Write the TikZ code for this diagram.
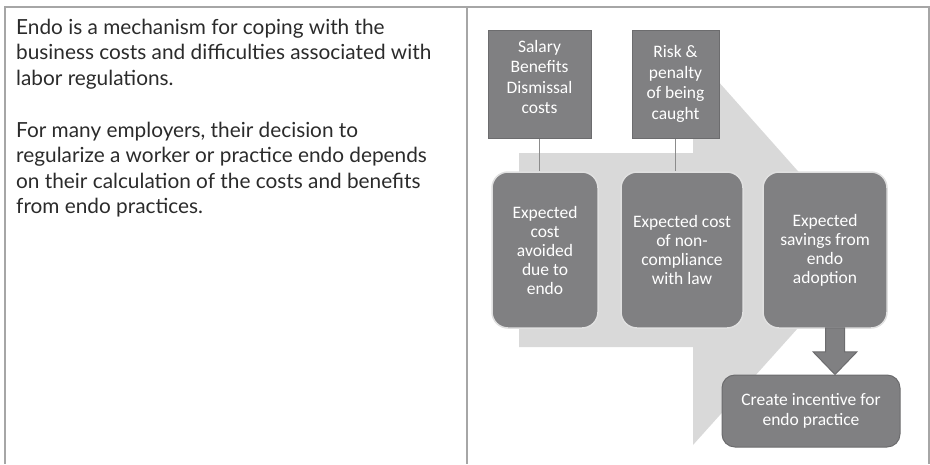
\documentclass[tikz,border=0pt]{standalone}
\usepackage{fontspec}
\setmainfont{Lato}
\newfontfamily\boxfont{Carlito}
\usetikzlibrary{calc}
\definecolor{framegray}{HTML}{A6A6A6}
\definecolor{boxgray}{HTML}{808082}
\definecolor{edgegray}{HTML}{6C6C6E}
\definecolor{chevgray}{HTML}{D9D9D9}
\definecolor{linkgray}{HTML}{8C8C8C}
\definecolor{inkgray}{HTML}{2B2B2B}
\begin{document}
\begin{tikzpicture}[x=1pt,y=-1pt,
    frame/.style={draw=framegray,line width=1.5pt},
    bodytext/.style={inner sep=0pt,align=left,text=inkgray,font=\fontsize{20.8}{25.5}\selectfont},
    boxtxt/.style={inner sep=0pt,align=center,text=white,font=\boxfont\fontsize{17.5}{20.5}\selectfont},
    topbox/.style={draw=edgegray,fill=boxgray,line width=1pt,inner sep=0pt,minimum height=108pt,boxtxt},
    midbox/.style={draw=white!88!black,fill=boxgray,line width=1.5pt,rounded corners=16pt,inner sep=0pt,minimum height=156pt,boxtxt,font=\boxfont\fontsize{17.5}{19}\selectfont},
    endbox/.style={draw=edgegray,fill=boxgray,line width=1pt,rounded corners=13pt,inner sep=0pt,minimum width=178pt,minimum height=72pt,boxtxt,font=\boxfont\fontsize{17.5}{20}\selectfont},
    link/.style={draw=linkgray,line width=1.3pt}]
  \useasboundingbox (0,0) rectangle (930,464);
  \draw[frame] (5,464) -- (5,7) -- (929,7) -- (929,464);
  \draw[frame] (467,7) -- (467,464);
  \node[bodytext,anchor=north west] (intro) at (16,18.8) {Endo is a mechanism for coping with the\\business costs and difficulties associated with\\labor regulations.};
  \node[bodytext,anchor=north west] (decide) at (16,121.8) {For many employers, their decision to\\regularize a worker or practice endo depends\\on their calculation of the costs and benefits\\from endo practices.};
  \fill[chevgray] (519,153) -- (693,153) -- (693,53) -- (868,250) -- (693,445) -- (693,347) -- (519,347) -- cycle;
  \node[topbox,minimum width=103pt] (pay) at (539.5,84) {};
  \node[boxtxt] (paytxt) at ([yshift=7pt]pay.center) {Salary\\Benefits\\Dismissal\\costs};
  \node[topbox,minimum width=87pt] (risk) at (675.5,84) {Risk \&\\penalty\\of being\\caught};
  \node[midbox,minimum width=106pt] (cost) at (545,250) {Expected\\cost\\avoided\\due to\\endo};
  \node[midbox,minimum width=122pt] (noncomp) at (682,250) {Expected cost\\of non-\\compliance\\with law};
  \node[midbox,minimum width=124pt] (save) at (825,250) {Expected\\savings from\\endo\\adoption};
  \node[endbox] (incent) at (811,411) {Create incentive for\\endo practice};
  \draw[link] (pay.south) -- (pay.south |- cost.north);
  \draw[link] (risk.south) -- (risk.south |- noncomp.north);
  \coordinate (arrtop) at ($(save.south)+(10,-1)$);
  \coordinate (arrtip) at (arrtop |- incent.north);
  \filldraw[fill=boxgray,draw=edgegray,line width=1pt] ($(arrtop)+(-9.5,0)$) -- ($(arrtop)+(9.5,0)$) -- ($(arrtop)+(9.5,24)$) -- ($(arrtop)+(22,24)$) -- (arrtip) -- ($(arrtop)+(-22,24)$) -- ($(arrtop)+(-9.5,24)$) -- cycle;
\end{tikzpicture}
\end{document}
